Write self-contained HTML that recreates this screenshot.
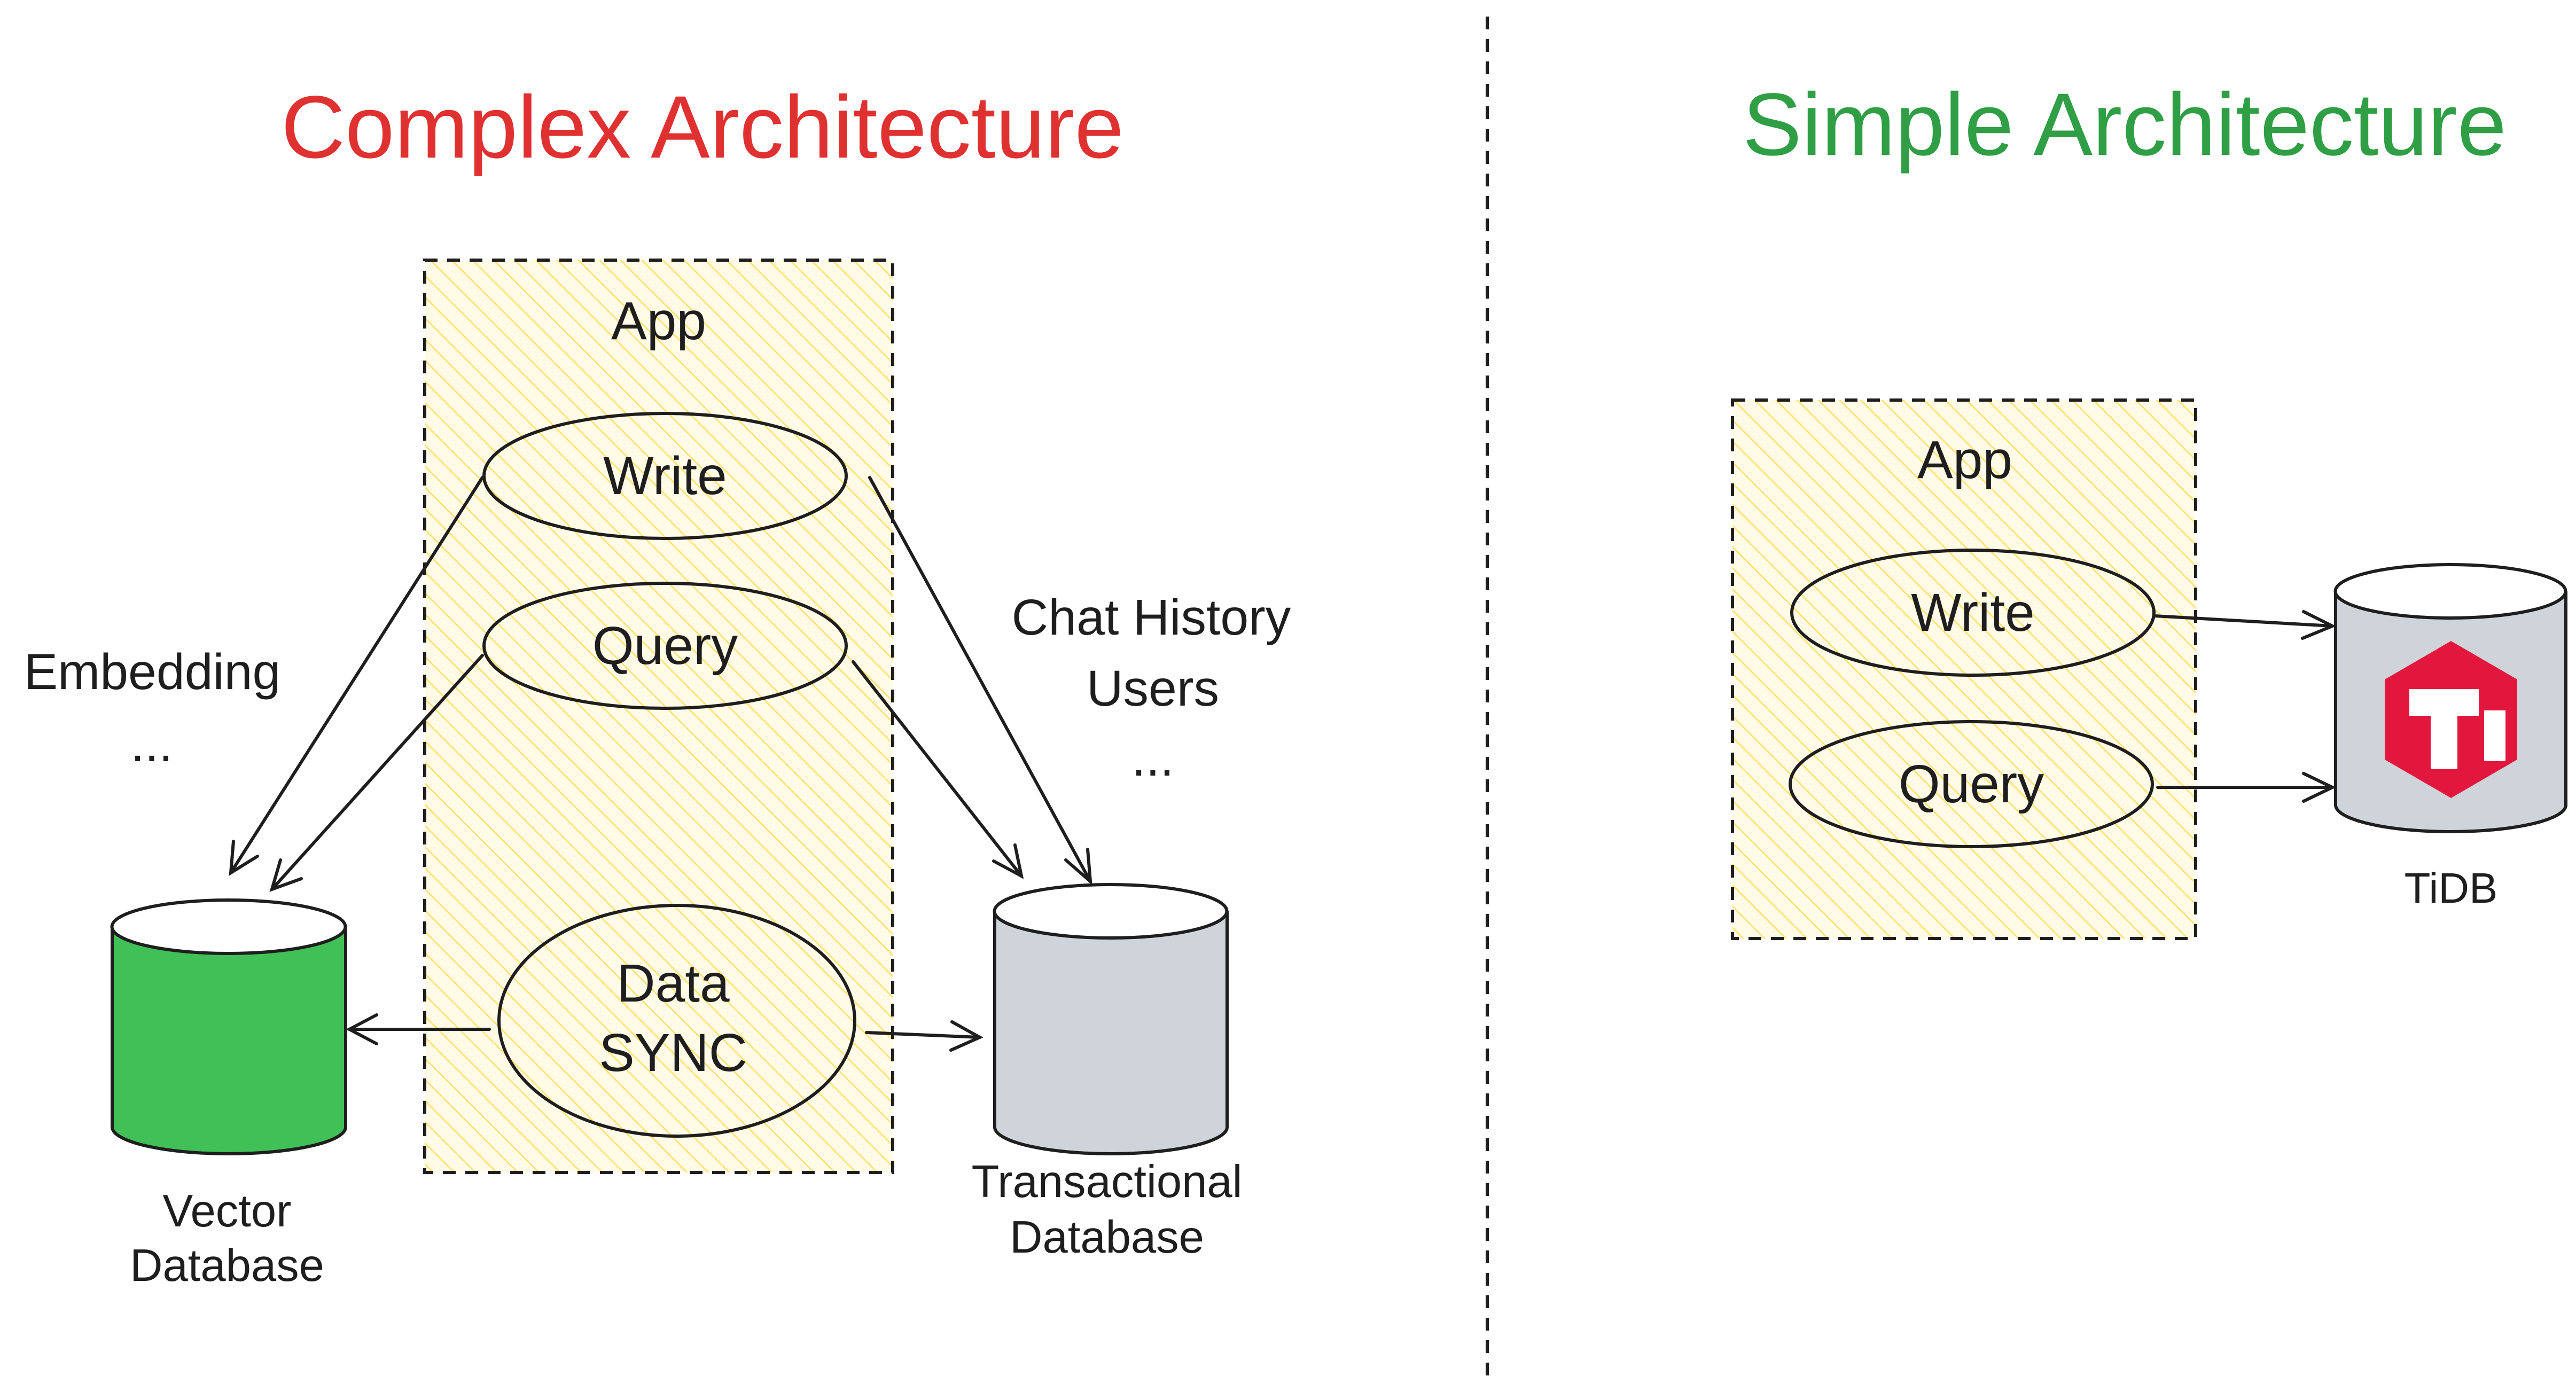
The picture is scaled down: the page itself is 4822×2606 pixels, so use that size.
<!DOCTYPE html>
<html><head><meta charset="utf-8"><style>
html,body{margin:0;padding:0;background:#fff;}
svg{display:block;}
text{font-family:"Liberation Sans","DejaVu Sans",sans-serif;fill:#1e1e1e;}
</style></head><body>
<svg width="4822" height="2606" viewBox="0 0 4822 2606" xmlns="http://www.w3.org/2000/svg">
<defs>
<pattern id="h" width="28" height="28" patternUnits="userSpaceOnUse" patternTransform="rotate(-45)">
<rect width="28" height="28" fill="#fffbe6"/>
<line x1="0" y1="0" x2="0" y2="28" stroke="#ffe066" stroke-width="5"/>
</pattern>
</defs>
<rect width="4822" height="2606" fill="#fff"/>
<text x="1315" y="295" font-size="166" text-anchor="middle" style="fill:#e03131">Complex Architecture</text>
<text x="3977" y="290" font-size="166" text-anchor="middle" style="fill:#2f9e44">Simple Architecture</text>
<line x1="2784" y1="31" x2="2784" y2="2590" stroke="#1e1e1e" stroke-width="6" stroke-dasharray="24 18"/>

<rect x="795" y="487" width="876" height="1708" fill="url(#h)" stroke="#1e1e1e" stroke-width="6" stroke-dasharray="24 18"/>
<text x="1233" y="635" font-size="100" text-anchor="middle">App</text>
<ellipse cx="1245" cy="891" rx="339" ry="117" fill="none" stroke="#1e1e1e" stroke-width="6"/>
<text x="1245" y="925" font-size="100" text-anchor="middle">Write</text>
<ellipse cx="1245" cy="1209" rx="339" ry="117" fill="none" stroke="#1e1e1e" stroke-width="6"/>
<text x="1245" y="1243" font-size="100" text-anchor="middle">Query</text>
<ellipse cx="1267" cy="1911" rx="333" ry="216" fill="none" stroke="#1e1e1e" stroke-width="6"/>
<text x="1260" y="1875" font-size="100" text-anchor="middle">Data</text>
<text x="1260" y="2005" font-size="100" text-anchor="middle">SYNC</text>

<path d="M210 1735 V2110 A218.5 50 0 0 0 647 2110 V1735" fill="#40c057" stroke="#1e1e1e" stroke-width="6"/>
<ellipse cx="428" cy="1735" rx="218.5" ry="50" fill="#fff" stroke="#1e1e1e" stroke-width="6"/>
<text x="425" y="2296" font-size="85" text-anchor="middle">Vector</text>
<text x="425" y="2398" font-size="85" text-anchor="middle">Database</text>

<path d="M1862 1706 V2110 A217.5 50 0 0 0 2297 2110 V1706" fill="#ced4da" stroke="#1e1e1e" stroke-width="6"/>
<ellipse cx="2079" cy="1706" rx="217.5" ry="50" fill="#fff" stroke="#1e1e1e" stroke-width="6"/>
<text x="2072" y="2241" font-size="85" text-anchor="middle">Transactional</text>
<text x="2072" y="2345" font-size="85" text-anchor="middle">Database</text>

<text x="285" y="1290" font-size="95" text-anchor="middle">Embedding</text>
<text x="284" y="1425" font-size="95" text-anchor="middle">...</text>
<text x="2155" y="1188" font-size="95" text-anchor="middle">Chat History</text>
<text x="2158" y="1321" font-size="95" text-anchor="middle">Users</text>
<text x="2158" y="1452" font-size="95" text-anchor="middle">...</text>

<g stroke="#1e1e1e" stroke-width="6" fill="none" stroke-linecap="round">
<line x1="903" y1="894" x2="432" y2="1634"/><path d="M437 1575 L432 1634 L482 1603"/>
<line x1="903" y1="1227" x2="509" y2="1665"/><path d="M525 1610 L509 1665 L564 1645"/>
<line x1="1628" y1="894" x2="2041" y2="1650"/><path d="M1995 1610 L2041 1650 L2036 1590"/>
<line x1="1597" y1="1239" x2="1912" y2="1640"/><path d="M1860 1612 L1912 1640 L1900 1582"/>
<line x1="916" y1="1927" x2="654" y2="1927"/><path d="M705 1900 L654 1927 L705 1954"/>
<line x1="1622" y1="1933" x2="1834" y2="1942"/><path d="M1782 1913 L1834 1942 L1780 1966"/>
</g>

<rect x="3243" y="749" width="867" height="1008" fill="url(#h)" stroke="#1e1e1e" stroke-width="6" stroke-dasharray="24 18"/>
<text x="3678" y="895" font-size="100" text-anchor="middle">App</text>
<ellipse cx="3693" cy="1147" rx="339" ry="117" fill="none" stroke="#1e1e1e" stroke-width="6"/>
<text x="3693" y="1181" font-size="100" text-anchor="middle">Write</text>
<ellipse cx="3690" cy="1468" rx="339" ry="117" fill="none" stroke="#1e1e1e" stroke-width="6"/>
<text x="3690" y="1502" font-size="100" text-anchor="middle">Query</text>

<path d="M4372 1107 V1507 A215.5 50 0 0 0 4803 1507 V1107" fill="#ced4da" stroke="#1e1e1e" stroke-width="6"/>
<ellipse cx="4587" cy="1107" rx="215.5" ry="50" fill="#fff" stroke="#1e1e1e" stroke-width="6"/>
<polygon points="4588,1200 4712,1272 4712,1422 4588,1494 4464,1422 4464,1272" fill="#e3173e"/>
<path d="M4510 1290 H4640 V1340 H4600 V1440 H4550 V1340 H4510 Z" fill="#fff"/>
<rect x="4650" y="1330" width="40" height="95" fill="#fff"/>
<text x="4588" y="1690" font-size="80" text-anchor="middle">TiDB</text>

<g stroke="#1e1e1e" stroke-width="6" fill="none" stroke-linecap="round">
<line x1="4033" y1="1153" x2="4366" y2="1172"/><path d="M4312 1145 L4366 1172 L4310 1195"/>
<line x1="4039" y1="1474" x2="4366" y2="1474"/><path d="M4312 1448 L4366 1474 L4312 1500"/>
</g>
</svg>
</body></html>
